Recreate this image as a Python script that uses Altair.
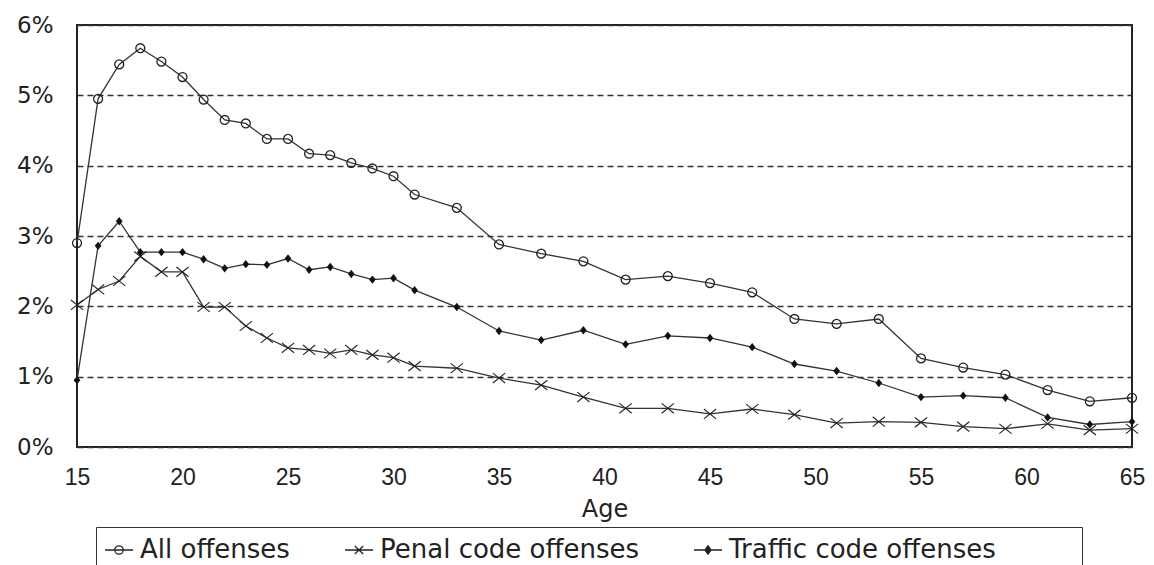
import altair as alt
import pandas as pd

ages = [15, 16, 17, 18, 19, 20, 21, 22, 23, 24, 25, 26, 27, 28, 29, 30, 31,
        33, 35, 37, 39, 41, 43, 45, 47, 49, 51, 53, 55, 57, 59, 61, 63, 65]

all_offenses = [2.90, 4.95, 5.44, 5.67, 5.48, 5.26, 4.94, 4.65, 4.60, 4.38, 4.38,
                4.17, 4.15, 4.04, 3.96, 3.85, 3.59, 3.40, 2.88, 2.75, 2.64, 2.38,
                2.43, 2.33, 2.20, 1.82, 1.75, 1.82, 1.26, 1.13, 1.03, 0.81, 0.65, 0.70]

penal_offenses = [2.02, 2.24, 2.36, 2.71, 2.49, 2.49, 1.99, 1.99, 1.72, 1.55, 1.41,
                  1.38, 1.33, 1.38, 1.31, 1.27, 1.15, 1.12, 0.98, 0.88, 0.71, 0.55,
                  0.55, 0.47, 0.54, 0.46, 0.34, 0.36, 0.35, 0.29, 0.26, 0.33, 0.24, 0.26]

traffic_offenses = [0.95, 2.86, 3.21, 2.77, 2.77, 2.77, 2.67, 2.54, 2.60, 2.59, 2.68,
                    2.52, 2.56, 2.46, 2.38, 2.40, 2.23, 1.99, 1.65, 1.52, 1.66, 1.46,
                    1.58, 1.55, 1.42, 1.18, 1.08, 0.91, 0.71, 0.73, 0.70, 0.42, 0.32, 0.36]

series_names = ["All offenses", "Penal code offenses", "Traffic code offenses"]
x_ticks = [15, 20, 25, 30, 35, 40, 45, 50, 55, 60, 65]
y_ticks = [0, 1, 2, 3, 4, 5, 6]

rows = []
for name, vals in zip(series_names, [all_offenses, penal_offenses, traffic_offenses]):
    for a, v in zip(ages, vals):
        rows.append({"age": a, "rate": v, "series": name})
df = pd.DataFrame(rows)

INK = "#222222"

x = alt.X(
    "age:Q",
    scale=alt.Scale(domain=[15, 65], nice=False, zero=False),
    axis=alt.Axis(
        values=x_ticks, grid=False, domain=False, ticks=False, tickSize=0,
        labelFont="Liberation Sans", labelFontSize=23, labelColor=INK,
        labelPadding=19, labelFlush=False,
        title="Age", titleFont="DejaVu Sans", titleFontSize=24,
        titleFontWeight="normal", titleColor=INK, titleBaseline="middle", titleY=62,
    ),
)
y = alt.Y(
    "rate:Q",
    scale=alt.Scale(domain=[0, 6], nice=False),
    axis=alt.Axis(
        values=y_ticks, grid=True, gridDash=[6, 4], gridColor="#333333",
        gridWidth=1.6, domain=False, ticks=False, tickSize=0,
        labelFont="DejaVu Sans", labelFontSize=23, labelColor=INK,
        labelPadding=24, labelExpr="datum.value + '%'", title=None,
    ),
)

base = alt.Chart(df)

lines = base.mark_line(color="#333333", strokeWidth=1.3).encode(
    x=x, y=y, detail="series:N"
)

pts_all = base.transform_filter(alt.datum.series == series_names[0]).mark_point(
    shape="circle", size=80, filled=False, color=INK, strokeWidth=1.3, opacity=1
).encode(x=x, y=y)

pts_penal = base.transform_filter(alt.datum.series == series_names[1]).mark_point(
    shape="M-1,-0.8L1,0.8M-1,0.8L1,-0.8", size=150, filled=False, color=INK,
    strokeWidth=1.1, opacity=1
).encode(x=x, y=y)

pts_traffic = base.transform_filter(alt.datum.series == series_names[2]).mark_point(
    shape="M0,-1L0.8,0L0,1L-0.8,0Z", size=70, filled=True, color="#111111", opacity=1
).encode(x=x, y=y)

legend_paths = [
    "M-1,0L1,0M0.3,0A0.3,0.3 0 1,1 -0.3,0A0.3,0.3 0 1,1 0.3,0",
    "M-1,0L1,0M-0.3,-0.28L0.3,0.28M-0.3,0.28L0.3,-0.28",
    "M-1,0L1,0M0,-0.3L0.22,0L0,0.3L-0.22,0ZM0,-0.18L0.13,0L0,0.18L-0.13,0ZM0,-0.07L0.05,0L0,0.07L-0.05,0Z",
]

legend_layer = base.transform_filter("false").mark_point(
    filled=False, color=INK, opacity=1
).encode(
    x=x, y=y,
    shape=alt.Shape(
        "series:N",
        scale=alt.Scale(domain=series_names, range=legend_paths),
        legend=alt.Legend(
            orient="none", legendX=19, legendY=502, direction="horizontal",
            title=None, strokeColor="#333333", fillColor="white", padding=8,
            labelFont="DejaVu Sans", labelFontSize=26, labelColor=INK,
            labelLimit=700, labelOffset=6, columnPadding=52,
            symbolSize=784, symbolStrokeWidth=1.3, symbolStrokeColor=INK,
            symbolOpacity=1,
            labelExpr="datum.label == 'Traffic code offenses' ? datum.label + '\u2003\u2003\u2003\u200b' : datum.label",
        ),
    ),
)

chart = alt.layer(lines, pts_all, pts_penal, pts_traffic, legend_layer).properties(
    width=1055,
    height=422,
    autosize=alt.AutoSizeParams(type="none"),
    padding={"left": 69, "top": 17, "right": 14, "bottom": 118},
    background="white",
).configure_view(stroke=INK, strokeWidth=2)

chart.save("out.html", embed_options={"renderer": "svg", "actions": False})
